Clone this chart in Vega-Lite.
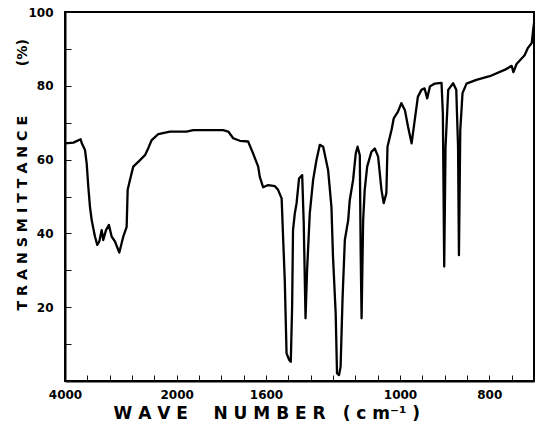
{
  "$schema": "https://vega.github.io/schema/vega-lite/v6.json",
  "width": 469,
  "height": 369,
  "autosize": {"type": "none"},
  "padding": {"left": 65, "top": 12, "right": 8, "bottom": 49},
  "background": "white",
  "config": {
    "view": {"stroke": "black", "strokeWidth": 2},
    "axis": {
      "domainColor": "black",
      "domainWidth": 2,
      "labelColor": "black",
      "labelFont": "DejaVu Sans",
      "labelFontWeight": "bold",
      "labelFontSize": 12,
      "labelFlush": false,
      "labelOverlap": false,
      "titleColor": "black",
      "titleFont": "DejaVu Sans",
      "titleFontWeight": "bold"
    }
  },
  "data": {
    "values": [
      {"wn": 4000, "t": 64.4}, {"wn": 3850, "t": 64.6}, {"wn": 3720, "t": 65.5}, {"wn": 3701, "t": 64.5},
      {"wn": 3642, "t": 62.6}, {"wn": 3612, "t": 59}, {"wn": 3583, "t": 52.7}, {"wn": 3553, "t": 47.2},
      {"wn": 3522, "t": 43.6}, {"wn": 3463, "t": 39.1}, {"wn": 3422, "t": 36.9}, {"wn": 3386, "t": 37.8},
      {"wn": 3343, "t": 40.9}, {"wn": 3315, "t": 38.2}, {"wn": 3266, "t": 40.9}, {"wn": 3213, "t": 42.3},
      {"wn": 3164, "t": 39.1}, {"wn": 3105, "t": 37.8}, {"wn": 3028, "t": 34.8}, {"wn": 2957, "t": 39.1},
      {"wn": 2896, "t": 41.8}, {"wn": 2878, "t": 51.8}, {"wn": 2837, "t": 54.5}, {"wn": 2778, "t": 58.1},
      {"wn": 2688, "t": 59.4}, {"wn": 2568, "t": 61.2}, {"wn": 2509, "t": 63.1}, {"wn": 2448, "t": 65.3},
      {"wn": 2330, "t": 66.9}, {"wn": 2121, "t": 67.6}, {"wn": 1956, "t": 67.6}, {"wn": 1926, "t": 68},
      {"wn": 1792, "t": 68}, {"wn": 1769, "t": 67.6}, {"wn": 1747, "t": 65.8}, {"wn": 1717, "t": 65.1},
      {"wn": 1680, "t": 64.9}, {"wn": 1658, "t": 61.7}, {"wn": 1635, "t": 58.1}, {"wn": 1628, "t": 55.4},
      {"wn": 1613, "t": 52.5}, {"wn": 1590, "t": 53.1}, {"wn": 1560, "t": 52.8}, {"wn": 1546, "t": 51.8},
      {"wn": 1530, "t": 49.5}, {"wn": 1523, "t": 38.2}, {"wn": 1516, "t": 27.4}, {"wn": 1508, "t": 7.5},
      {"wn": 1496, "t": 5.7}, {"wn": 1489, "t": 5.2}, {"wn": 1483, "t": 20.1}, {"wn": 1479, "t": 40.9},
      {"wn": 1471, "t": 45.4}, {"wn": 1463, "t": 48.2}, {"wn": 1452, "t": 54.9}, {"wn": 1438, "t": 55.8},
      {"wn": 1431, "t": 42.7}, {"wn": 1423, "t": 17}, {"wn": 1416, "t": 30.1}, {"wn": 1404, "t": 45.4},
      {"wn": 1389, "t": 54.5}, {"wn": 1374, "t": 59.9}, {"wn": 1359, "t": 64}, {"wn": 1344, "t": 63.5},
      {"wn": 1322, "t": 57.2}, {"wn": 1307, "t": 47.2}, {"wn": 1300, "t": 33.7}, {"wn": 1288, "t": 18.3},
      {"wn": 1282, "t": 2.1}, {"wn": 1273, "t": 1.6}, {"wn": 1266, "t": 3.9}, {"wn": 1257, "t": 22.8},
      {"wn": 1247, "t": 38.2}, {"wn": 1232, "t": 43.6}, {"wn": 1225, "t": 49}, {"wn": 1210, "t": 54.5},
      {"wn": 1198, "t": 61.7}, {"wn": 1190, "t": 63.5}, {"wn": 1180, "t": 61.2}, {"wn": 1176, "t": 34.6},
      {"wn": 1172, "t": 17}, {"wn": 1165, "t": 43.6}, {"wn": 1158, "t": 51.8}, {"wn": 1147, "t": 58.1},
      {"wn": 1128, "t": 62.1}, {"wn": 1113, "t": 63}, {"wn": 1098, "t": 60.8}, {"wn": 1083, "t": 51.8},
      {"wn": 1073, "t": 48.2}, {"wn": 1061, "t": 50.9}, {"wn": 1056, "t": 63.5}, {"wn": 1038, "t": 68},
      {"wn": 1028, "t": 71.2}, {"wn": 1009, "t": 73}, {"wn": 997, "t": 75.3}, {"wn": 989, "t": 73.4},
      {"wn": 982, "t": 68.9}, {"wn": 974, "t": 64.4}, {"wn": 967, "t": 70.7}, {"wn": 960, "t": 77},
      {"wn": 952, "t": 78.9}, {"wn": 945, "t": 79.3}, {"wn": 939, "t": 76.6}, {"wn": 933, "t": 79.8},
      {"wn": 922, "t": 80.6}, {"wn": 907, "t": 80.8}, {"wn": 904, "t": 72.5}, {"wn": 901, "t": 31},
      {"wn": 898, "t": 63.5}, {"wn": 892, "t": 78.9}, {"wn": 881, "t": 80.7}, {"wn": 874, "t": 78.9},
      {"wn": 870, "t": 63.5}, {"wn": 868, "t": 34.1}, {"wn": 865, "t": 68}, {"wn": 860, "t": 78},
      {"wn": 851, "t": 80.6}, {"wn": 829, "t": 81.6}, {"wn": 799, "t": 82.6}, {"wn": 766, "t": 84.3},
      {"wn": 750, "t": 85.4}, {"wn": 746, "t": 83.7}, {"wn": 739, "t": 85.9}, {"wn": 721, "t": 88.3},
      {"wn": 714, "t": 90.2}, {"wn": 705, "t": 91.6}, {"wn": 702, "t": 95}, {"wn": 700, "t": 97}
    ]
  },
  "mark": {"type": "line", "color": "black", "strokeWidth": 2.3, "strokeJoin": "round"},
  "encoding": {
    "x": {
      "field": "wn",
      "type": "quantitative",
      "scale": {"domain": [4000, 2000, 1600, 1000, 800, 700], "range": [0, 111.7, 201, 335, 424.3, 469], "nice": false, "zero": false},
      "axis": {
        "orient": "bottom",
        "grid": false,
        "values": [4000, 3600, 3200, 2800, 2400, 2000, 1900, 1800, 1700, 1600, 1500, 1400, 1300, 1200, 1100, 1000, 950, 900, 850, 800, 750, 700],
        "format": "d",
        "labelExpr": "(datum.value == 4000 || datum.value == 2000 || datum.value == 1600 || datum.value == 1000 || datum.value == 800) ? datum.label : ''",
        "tickColor": "#111111",
        "tickSize": -6,
        "labelPadding": 14.5,
        "labelBaseline": "top",
        "title": "W A V E\u2003\u2002N U M B E R\u2003(\u00a0c\u00a0m\u207b\u00b9\u00a0)",
        "titleFontSize": 17,
        "titleAlign": "left",
        "titleBaseline": "middle",
        "titleX": 48,
        "titleY": 32
      }
    },
    "y": {
      "field": "t",
      "type": "quantitative",
      "scale": {"domain": [0, 100], "nice": false},
      "axis": {
        "orient": "left",
        "grid": false,
        "values": [0, 10, 20, 30, 40, 50, 60, 70, 80, 90, 100],
        "labelExpr": "(datum.value == 20 || datum.value == 40 || datum.value == 60 || datum.value == 80 || datum.value == 100) ? datum.label : ''",
        "tickColor": "#111111",
        "tickSize": -6,
        "labelPadding": 18,
        "title": "T R A N S M I T T A N C E\u2003\u2003\u2003\u2002(%)",
        "titleFontSize": 14.2,
        "titleAngle": -90,
        "titleAlign": "left",
        "titleBaseline": "middle",
        "titleX": -43,
        "titleY": 298
      }
    }
  }
}
